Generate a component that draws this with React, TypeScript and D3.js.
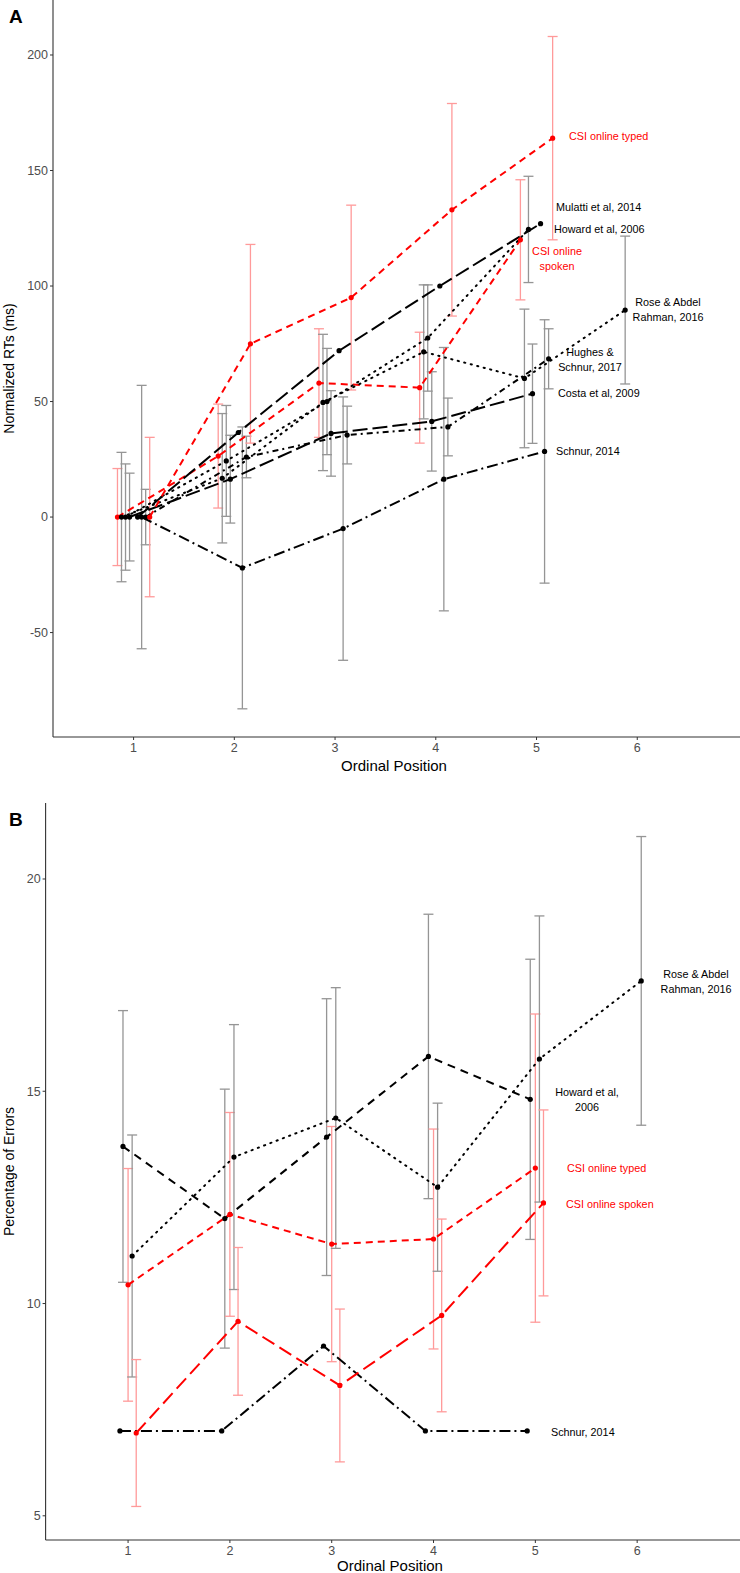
import { useEffect } from 'react';
import * as d3 from 'd3';

// ordinal positions
const positions = [1, 2, 3, 4, 5];
const positionsRose = [1, 2, 3, 4, 5, 6];

// Panel A: normalized RTs (ms), mean and error half-width
const rtSpoken = [0, 26.4, 58, 56, 120];
const rtSpokenErr = [21, 22.5, 23.5, 24, 26];
const rtRose = [0, 16.8, 49.6, 71.5, 60, 89.6];
const rtRoseErr = [28, 28, 29.5, 29, 30, 32];
const rtHoward = [0, 24.3, 50, 77.5, 124.5];
const rtHowardErr = [23, 24, 23, 23, 23];
const rtCosta = [0, 16.4, 36.2, 41.4, 53.4];
const rtCostaErr = [19, 19, 18.5, 21.5, 21.5];
const rtMulatti = [0, 36.6, 72, 100, 127];
const rtSchnur = [0, -22, -5, 16.4, 28.4];
const rtSchnurErr = [57, 61, 57, 57, 57];
const rtHughes = [0, 26, 35.5, 39, 68.5];
const rtHughesErr = [12, 9, 12.5, 12.5, 13];
const rtTyped = [0, 75, 95, 133, 164];
const rtTypedErr = [34.5, 43, 40, 46, 44];

// Panel B: percentage of errors
const pctHoward = [13.7, 12.0, 13.92, 15.82, 14.81];
const pctHowardErr = [3.2, 3.05, 3.26, 3.35, 3.3];
const pctRose = [11.12, 13.45, 14.37, 12.74, 15.76, 17.6];
const pctRoseErr = [2.85, 3.12, 3.07, 1.98, 3.37, 3.4];
const pctSchnur = [7, 7, 9, 7, 7];
const pctTyped = [10.44, 12.1, 11.4, 11.52, 13.19];
const pctTypedErr = [2.74, 2.4, 2.77, 2.59, 3.63];
const pctSpoken = [6.95, 9.58, 8.07, 9.72, 12.37];
const pctSpokenErr = [1.73, 1.74, 1.8, 2.27, 2.19];

const rtTicks = [-50, 0, 50, 100, 150, 200];
const pctTicks = [5, 10, 15, 20];
const xTicks = [1, 2, 3, 4, 5, 6];

const RED = '#ff0000';
const RED_BAR = '#ff9a9a';
const GREY_BAR = '#959595';
const FONT = '"Liberation Sans", Arial, Helvetica, sans-serif';

type Series = {
  xs: number[];
  ys: number[];
  err?: number[];
  dodge: number;
  color: string;
  dash: string;
};

type Label = { lines: string[]; x: number; y: number; anchor: string; color: string };

function Panel({
  series,
  x,
  y,
  yTicks,
  yTitle,
  tag,
  labels,
  titleX,
  titleY,
}: {
  series: Series[];
  x: d3.ScaleLinear<number, number>;
  y: d3.ScaleLinear<number, number>;
  yTicks: number[];
  yTitle: string;
  tag: string;
  labels: Label[];
  titleX: number;
  titleY: number;
}) {
  const [x0, x1] = x.range();
  const [yb, yt] = y.range();
  const midY = (yb + yt) / 2;
  return (
    <g fontFamily={FONT}>
      {/* error bars */}
      {series.map((s, si) =>
        s.err
          ? s.xs.map((p, i) => {
              const cx = x(p + s.dodge);
              const hi = y(s.ys[i] + s.err![i]);
              const lo = y(s.ys[i] - s.err![i]);
              const c = s.color === RED ? RED_BAR : GREY_BAR;
              return (
                <g key={`e${si}-${i}`} stroke={c} strokeWidth={1.3}>
                  <line x1={cx} x2={cx} y1={hi} y2={lo} />
                  <line x1={cx - 5} x2={cx + 5} y1={hi} y2={hi} />
                  <line x1={cx - 5} x2={cx + 5} y1={lo} y2={lo} />
                </g>
              );
            })
          : null,
      )}
      {/* lines */}
      {series.map((s, si) => {
        const line = d3
          .line<number>()
          .x((p) => x(p + s.dodge))
          .y((_, i) => y(s.ys[i]));
        return (
          <path
            key={`l${si}`}
            d={line(s.xs) || ''}
            fill="none"
            stroke={s.color}
            strokeWidth={2}
            strokeDasharray={s.dash}
            strokeLinecap={s.dash.startsWith('1.') ? 'round' : 'butt'}
          />
        );
      })}
      {/* points */}
      {series.map((s, si) =>
        s.xs.map((p, i) => (
          <circle key={`p${si}-${i}`} cx={x(p + s.dodge)} cy={y(s.ys[i])} r={2.6} fill={s.color} />
        )),
      )}
      {/* axes */}
      <line x1={x0} x2={x0} y1={yt} y2={yb} stroke="#333" strokeWidth={1.1} />
      <line x1={x0} x2={x1} y1={yb} y2={yb} stroke="#333" strokeWidth={1.1} />
      {yTicks.map((t) => (
        <g key={`yt${t}`}>
          <line x1={x0 - 3} x2={x0} y1={y(t)} y2={y(t)} stroke="#333" />
          <text x={x0 - 5} y={y(t)} dy="0.35em" textAnchor="end" fontSize={12.5} fill="#4d4d4d">
            {t}
          </text>
        </g>
      ))}
      {xTicks.map((t) => (
        <g key={`xt${t}`}>
          <line x1={x(t)} x2={x(t)} y1={yb} y2={yb + 3} stroke="#333" />
          <text x={x(t)} y={yb + 15} textAnchor="middle" fontSize={12.5} fill="#4d4d4d">
            {t}
          </text>
        </g>
      ))}
      <text x={titleX} y={titleY} textAnchor="middle" dy="0.35em" fontSize={15} fill="#000">
        Ordinal Position
      </text>
      <text
        transform={`translate(9,${midY}) rotate(-90)`}
        textAnchor="middle"
        dy="0.35em"
        fontSize={14}
        fill="#000"
      >
        {yTitle}
      </text>
      <text x={9} y={yt + 23} fontSize={19} fontWeight="bold" fill="#000">
        {tag}
      </text>
      {labels.map((l, li) =>
        l.lines.map((txt, k) => (
          <text
            key={`lb${li}-${k}`}
            x={l.x}
            y={l.y + k * 15}
            dy="0.35em"
            textAnchor={l.anchor}
            fontSize={10.8}
            fill={l.color}
          >
            {txt}
          </text>
        )),
      )}
    </g>
  );
}

export default function App() {
  useEffect(() => {
    document.body.style.margin = '0';
  }, []);

  const xA = d3.scaleLinear().domain([0.2, 7.02]).range([53, 740]);
  const yA = d3.scaleLinear().domain([-95.2, 223.8]).range([737, 0]);
  const xB = d3.scaleLinear().domain([0.19, 7.01]).range([45.6, 740]);
  const yB = d3.scaleLinear().domain([4.43, 21.79]).range([1540, 803]);

  const dashed = '7,5';
  const longdash = '15,5';
  const dotted = '1.2,5.5';
  const dotdash = '11,4,2,4';
  const twodash = '6,4,2,4';

  const seriesA: Series[] = [
    { xs: positions, ys: rtSpoken, err: rtSpokenErr, dodge: -0.16, color: RED, dash: dashed },
    { xs: positionsRose, ys: rtRose, err: rtRoseErr, dodge: -0.12, color: '#000', dash: dotted },
    { xs: positions, ys: rtHoward, err: rtHowardErr, dodge: -0.08, color: '#000', dash: dotted },
    { xs: positions, ys: rtCosta, err: rtCostaErr, dodge: -0.04, color: '#000', dash: longdash },
    { xs: positions, ys: rtMulatti, dodge: 0.04, color: '#000', dash: longdash },
    { xs: positions, ys: rtSchnur, err: rtSchnurErr, dodge: 0.08, color: '#000', dash: dotdash },
    { xs: positions, ys: rtHughes, err: rtHughesErr, dodge: 0.12, color: '#000', dash: twodash },
    { xs: positions, ys: rtTyped, err: rtTypedErr, dodge: 0.16, color: RED, dash: dashed },
  ];

  const seriesB: Series[] = [
    { xs: positions, ys: pctSchnur, dodge: -0.08, color: '#000', dash: dotdash },
    { xs: positions, ys: pctHoward, err: pctHowardErr, dodge: -0.05, color: '#000', dash: '8,6' },
    { xs: positions, ys: pctTyped, err: pctTypedErr, dodge: 0, color: RED, dash: dashed },
    { xs: positionsRose, ys: pctRose, err: pctRoseErr, dodge: 0.04, color: '#000', dash: dotted },
    { xs: positions, ys: pctSpoken, err: pctSpokenErr, dodge: 0.08, color: RED, dash: '14,6' },
  ];

  const labelsA: Label[] = [
    { lines: ['CSI online typed'], x: 569, y: 136, anchor: 'start', color: RED },
    { lines: ['Mulatti et al, 2014'], x: 556, y: 207, anchor: 'start', color: '#000' },
    { lines: ['Howard et al, 2006'], x: 554, y: 229, anchor: 'start', color: '#000' },
    { lines: ['CSI online', 'spoken'], x: 557, y: 251, anchor: 'middle', color: RED },
    { lines: ['Rose & Abdel', 'Rahman, 2016'], x: 668, y: 302, anchor: 'middle', color: '#000' },
    { lines: ['Hughes &', 'Schnur, 2017'], x: 590, y: 352, anchor: 'middle', color: '#000' },
    { lines: ['Costa et al, 2009'], x: 558, y: 393, anchor: 'start', color: '#000' },
    { lines: ['Schnur, 2014'], x: 556, y: 451, anchor: 'start', color: '#000' },
  ];

  const labelsB: Label[] = [
    { lines: ['Rose & Abdel', 'Rahman, 2016'], x: 696, y: 974, anchor: 'middle', color: '#000' },
    { lines: ['Howard et al,', '2006'], x: 587, y: 1092, anchor: 'middle', color: '#000' },
    { lines: ['CSI online typed'], x: 567, y: 1168, anchor: 'start', color: RED },
    { lines: ['CSI online spoken'], x: 566, y: 1204, anchor: 'start', color: RED },
    { lines: ['Schnur, 2014'], x: 551, y: 1432, anchor: 'start', color: '#000' },
  ];

  return (
    <svg width={740} height={1573} style={{ display: 'block', background: '#fff' }}>
      <Panel
        series={seriesA}
        x={xA}
        y={yA}
        yTicks={rtTicks}
        yTitle="Normalized RTs (ms)"
        tag="A"
        labels={labelsA}
        titleX={394}
        titleY={766}
      />
      <Panel
        series={seriesB}
        x={xB}
        y={yB}
        yTicks={pctTicks}
        yTitle="Percentage of Errors"
        tag="B"
        labels={labelsB}
        titleX={390}
        titleY={1566}
      />
    </svg>
  );
}
